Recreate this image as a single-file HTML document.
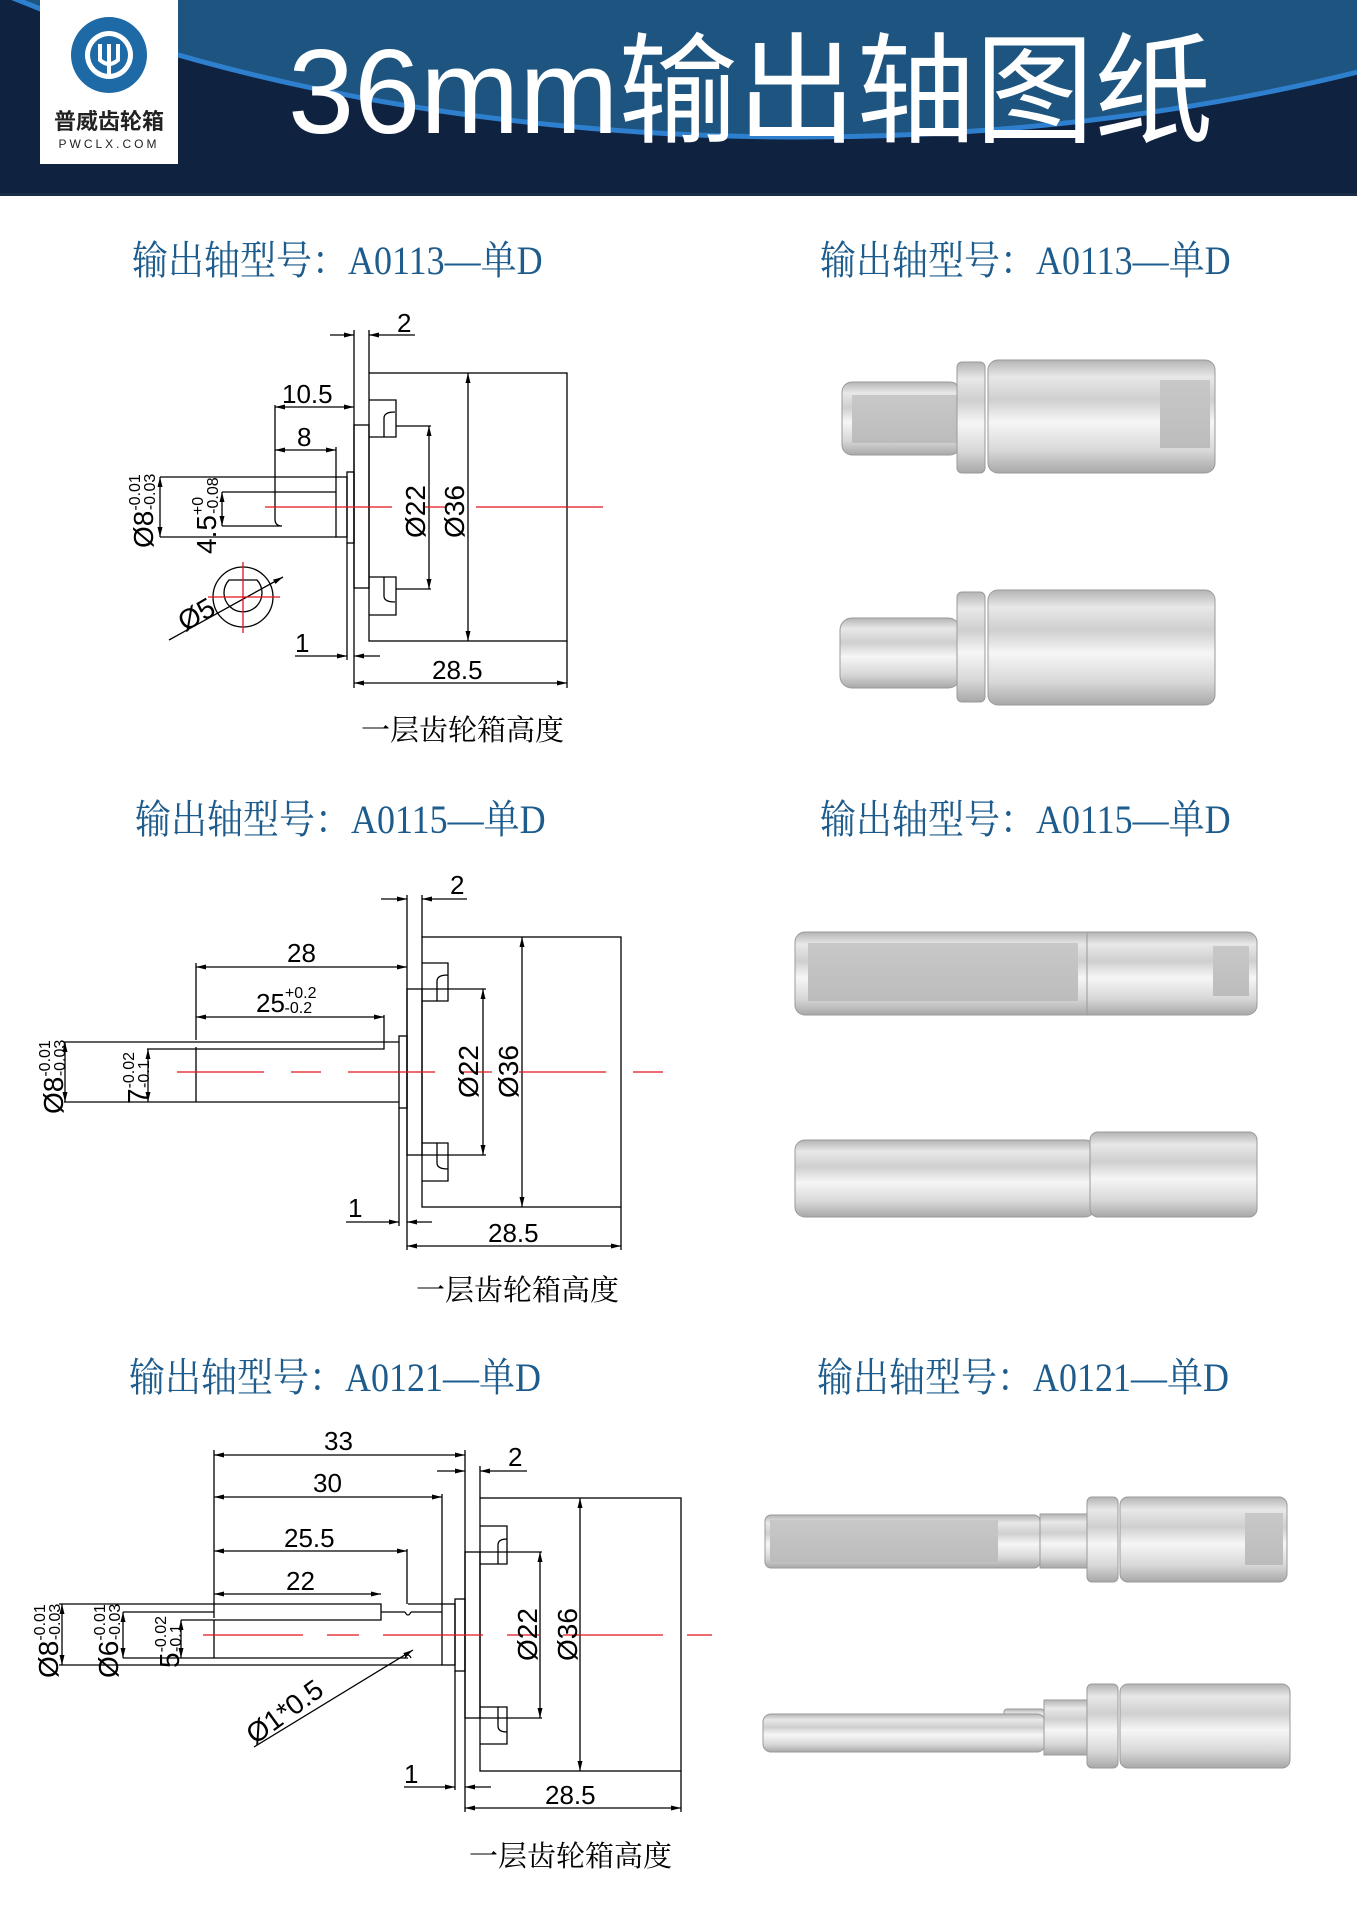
<!DOCTYPE html>
<html><head><meta charset="utf-8"><style>
html,body{margin:0;padding:0;background:#fff}
body{width:1357px;height:1920px;position:relative;overflow:hidden}
.t{position:absolute;font-family:"Liberation Serif","Noto Serif CJK SC",serif;font-size:40px;color:#1d5c8c;white-space:nowrap;line-height:1;transform:scaleX(0.9);transform-origin:left center}
</style></head><body>
<svg width="1357" height="1920" viewBox="0 0 1357 1920" xmlns="http://www.w3.org/2000/svg" style="position:absolute;left:0;top:0">
<defs>
<linearGradient id="m" x1="0" y1="0" x2="0" y2="1">
<stop offset="0" stop-color="#b4b4b4"/><stop offset="0.15" stop-color="#e8e8e8"/><stop offset="0.35" stop-color="#cfcfcf"/><stop offset="0.55" stop-color="#f6f6f6"/><stop offset="0.8" stop-color="#d8d8d8"/><stop offset="1" stop-color="#a8a8a8"/>
</linearGradient>
<linearGradient id="f" x1="0" y1="0" x2="0" y2="1"><stop offset="0" stop-color="#c8c8c8"/><stop offset="1" stop-color="#bcbcbc"/></linearGradient>
<marker id="a" viewBox="0 0 10 6" refX="10" refY="3" markerWidth="10" markerHeight="6" orient="auto-start-reverse" markerUnits="userSpaceOnUse"><path d="M0,0.5 L10,3 L0,5.5 Z" fill="#000"/></marker>
<clipPath id="hc"><rect x="0" y="0" width="1357" height="196"/></clipPath>
</defs>
<!-- header -->
<rect x="0" y="0" width="1357" height="196" fill="#0f2240"/>
<g clip-path="url(#hc)"><ellipse cx="800" cy="-430" rx="1200" ry="567" fill="#1d5580" stroke="#2f7fcf" stroke-width="5"/></g>
<rect x="0" y="193" width="1357" height="3" fill="#1a2b44"/>
<rect x="40" y="0" width="138" height="164" fill="#fff"/>
<circle cx="109" cy="55" r="38" fill="#1e6aa6"/>
<circle cx="109" cy="55" r="24" fill="#fff"/>
<circle cx="109" cy="55" r="19" fill="#1e6aa6"/>
<path d="M100,44 v16 q9,8 18,0 v-16 M109,44 v30" stroke="#fff" stroke-width="4" fill="none"/>
<text x="109" y="129" text-anchor="middle" font-family="Liberation Sans,Noto Sans CJK SC,sans-serif" font-weight="bold" font-size="22" fill="#222">普威齿轮箱</text>
<text x="109" y="148" text-anchor="middle" font-family="Liberation Sans,sans-serif" font-size="12" letter-spacing="3" fill="#222">PWCLX.COM</text>
<text x="288" y="133" font-family="Liberation Sans,Noto Sans CJK SC,sans-serif" font-size="120" fill="#fff" textLength="925" lengthAdjust="spacingAndGlyphs">36mm输出轴图纸</text>

<g fill="none" stroke="#000" stroke-width="1.3">
<!-- ===== Drawing 1 ===== -->
<rect x="369" y="373" width="198" height="268"/>
<rect x="354" y="425" width="15" height="163"/>
<rect x="347" y="472" width="7" height="71"/>
<rect x="336" y="477" width="11" height="60"/>
<path d="M160,477 H336 M160,537 H336 M222,492 H336 M222,526 H282 Q275,526 275,519 V492 M275,405 V492"/>
<path d="M369,400 H396 V437 H369 M384,437 V418 Q384,412 395,412 M369,577 H396 V615 H369 M384,577 V596 Q384,602 395,602"/>
<path d="M396,426 H431 M396,589 H431"/>
<path d="M354,330 V688 M369,330 V373 M336,447 V477 M347,543 V660 M567,641 V688"/>
<path d="M330,335 H354" marker-end="url(#a)"/><path d="M415,335 H369" marker-end="url(#a)"/>
<path d="M275,407 H354" marker-start="url(#a)" marker-end="url(#a)"/>
<path d="M275,450 H336" marker-start="url(#a)" marker-end="url(#a)"/>
<path d="M160,477 V537" marker-start="url(#a)" marker-end="url(#a)"/>
<path d="M222,492 V526" marker-start="url(#a)" marker-end="url(#a)"/>
<path d="M429,426 V589" marker-start="url(#a)" marker-end="url(#a)"/>
<path d="M468,373 V641" marker-start="url(#a)" marker-end="url(#a)"/>
<path d="M295,656 H347" marker-end="url(#a)"/><path d="M380,656 H354" marker-end="url(#a)"/>
<path d="M354,683 H567" marker-start="url(#a)" marker-end="url(#a)"/>
<circle cx="243" cy="597" r="30"/>
<path d="M229,580 A19,19 0 1 0 257,580 Z"/>
<path d="M169,640 L283,577" marker-end="url(#a)"/>

<!-- ===== Drawing 2 ===== -->
<rect x="422" y="937" width="199" height="270"/>
<rect x="407" y="989" width="15" height="166"/>
<rect x="399" y="1036" width="8" height="72"/>
<path d="M64,1042 H399 M147,1049 H384 V1042 M64,1102 H399 M196,1047 V1102 M196,963 V1040 M384,1015 V1042"/>
<path d="M422,963 H448 V1001 H422 M437,1001 V981 Q437,975 448,975 M422,1143 H448 V1181 H422 M437,1143 V1163 Q437,1169 448,1169"/>
<path d="M422,989 H486 M422,1155 H486"/>
<path d="M407,895 V1250 M422,895 V937 M399,1108 V1226 M621,1207 V1250"/>
<path d="M381,899 H407" marker-end="url(#a)"/><path d="M467,899 H422" marker-end="url(#a)"/>
<path d="M196,967 H407" marker-start="url(#a)" marker-end="url(#a)"/>
<path d="M196,1017 H384" marker-start="url(#a)" marker-end="url(#a)"/>
<path d="M65,1042 V1102" marker-start="url(#a)" marker-end="url(#a)"/>
<path d="M148,1049 V1102" marker-start="url(#a)" marker-end="url(#a)"/>
<path d="M483,989 V1155" marker-start="url(#a)" marker-end="url(#a)"/>
<path d="M522,937 V1207" marker-start="url(#a)" marker-end="url(#a)"/>
<path d="M346,1222 H399" marker-end="url(#a)"/><path d="M432,1222 H407" marker-end="url(#a)"/>
<path d="M407,1246 H621" marker-start="url(#a)" marker-end="url(#a)"/>

<!-- ===== Drawing 3 ===== -->
<rect x="480" y="1498" width="201" height="273"/>
<rect x="465" y="1552" width="15" height="166"/>
<rect x="455" y="1599" width="10" height="72"/>
<rect x="442" y="1604" width="13" height="61"/>
<path d="M59,1604 H381 V1620 H181 M408,1604 H442 M123,1612 H214 M123,1658 H408 M59,1665 H442 M214,1620 V1658 M381,1612 H405 M411,1612 H442 M405,1612 Q408,1618 411,1612 M405,1658 Q408,1652 411,1658 M407,1549 V1604"/>
<path d="M214,1450 V1618 M465,1450 V1552 M442,1494 V1604 M480,1466 V1498 M465,1552 V1812 M455,1671 V1790 M681,1771 V1812"/>
<path d="M480,1526 H507 V1564 H480 M498,1564 V1545 Q498,1539 507,1539 M480,1707 H507 V1744 H480 M498,1707 V1726 Q498,1732 507,1732"/>
<path d="M480,1552 H542 M480,1718 H542"/>
<path d="M214,1455 H465" marker-start="url(#a)" marker-end="url(#a)"/>
<path d="M214,1497 H442" marker-start="url(#a)" marker-end="url(#a)"/>
<path d="M214,1551 H407" marker-start="url(#a)" marker-end="url(#a)"/>
<path d="M214,1594 H381" marker-start="url(#a)" marker-end="url(#a)"/>
<path d="M437,1471 H465" marker-end="url(#a)"/><path d="M527,1471 H480" marker-end="url(#a)"/>
<path d="M62,1604 V1665" marker-start="url(#a)" marker-end="url(#a)"/>
<path d="M123,1612 V1658" marker-start="url(#a)" marker-end="url(#a)"/>
<path d="M181,1620 V1658" marker-start="url(#a)" marker-end="url(#a)"/>
<path d="M540,1552 V1718" marker-start="url(#a)" marker-end="url(#a)"/>
<path d="M580,1498 V1771" marker-start="url(#a)" marker-end="url(#a)"/>
<path d="M254,1747 L413,1650" marker-end="url(#a)"/>
<path d="M404,1787 H455" marker-end="url(#a)"/><path d="M491,1787 H465" marker-end="url(#a)"/>
<path d="M465,1808 H681" marker-start="url(#a)" marker-end="url(#a)"/>
</g>
<!-- red lines -->
<g stroke="#e0141e" stroke-width="1.3" fill="none">
<path d="M265,507 H392 M425,507 H445 M476,507 H603"/>
<path d="M208,597 H280 M243,562 V633"/>
<path d="M177,1072 H664" stroke-dasharray="87 27 30 27"/>
<path d="M203,1635 H712" stroke-dasharray="100 24 32 24"/>
</g>

<!-- dimension texts -->
<g font-family="Liberation Sans,sans-serif" font-size="26" fill="#000">
<text x="397" y="332">2</text><text x="282" y="403">10.5</text><text x="297" y="446">8</text>
<text x="295" y="652">1</text><text x="432" y="679">28.5</text>
<text transform="translate(425,538) rotate(-90)" font-size="28">Ø22</text>
<text transform="translate(464,538) rotate(-90)" font-size="28">Ø36</text>
<text transform="translate(153,548) rotate(-90)" font-size="28">Ø8<tspan font-size="16" dy="-13">-0.01</tspan><tspan font-size="16" dx="-36" dy="15">-0.03</tspan></text>
<text transform="translate(216,554) rotate(-90)" font-size="28">4.5<tspan font-size="16" dy="-13">+0</tspan><tspan font-size="16" dx="-17" dy="15">-0.08</tspan></text>
<text transform="translate(185,632) rotate(-30)" font-size="28">Ø5</text>

<text x="450" y="894">2</text><text x="287" y="962">28</text>
<text x="256" y="1012">25<tspan font-size="16" dy="-14">+0.2</tspan><tspan font-size="16" dx="-32" dy="15">-0.2</tspan></text>
<text x="348" y="1217">1</text><text x="488" y="1242">28.5</text>
<text transform="translate(478,1098) rotate(-90)" font-size="28">Ø22</text>
<text transform="translate(518,1098) rotate(-90)" font-size="28">Ø36</text>
<text transform="translate(63,1114) rotate(-90)" font-size="28">Ø8<tspan font-size="16" dy="-13">-0.01</tspan><tspan font-size="16" dx="-36" dy="15">-0.03</tspan></text>
<text transform="translate(147,1104) rotate(-90)" font-size="28">7<tspan font-size="16" dy="-13">-0.02</tspan><tspan font-size="16" dx="-36" dy="15">-0.1</tspan></text>

<text x="324" y="1450">33</text><text x="313" y="1492">30</text><text x="284" y="1547">25.5</text><text x="286" y="1590">22</text>
<text x="508" y="1466">2</text><text x="404" y="1783">1</text><text x="545" y="1804">28.5</text>
<text transform="translate(537,1661) rotate(-90)" font-size="28">Ø22</text>
<text transform="translate(577,1661) rotate(-90)" font-size="28">Ø36</text>
<text transform="translate(58,1678) rotate(-90)" font-size="28">Ø8<tspan font-size="16" dy="-13">-0.01</tspan><tspan font-size="16" dx="-36" dy="15">-0.03</tspan></text>
<text transform="translate(118,1678) rotate(-90)" font-size="28">Ø6<tspan font-size="16" dy="-13">-0.01</tspan><tspan font-size="16" dx="-36" dy="15">-0.03</tspan></text>
<text transform="translate(179,1668) rotate(-90)" font-size="28">5<tspan font-size="16" dy="-13">-0.02</tspan><tspan font-size="16" dx="-36" dy="15">-0.1</tspan></text>
<text transform="translate(255,1745) rotate(-36)" font-size="28">Ø1*0.5</text>
</g>
<g font-family="Liberation Serif,Noto Serif CJK SC,serif" font-size="29" fill="#000">
<text x="361" y="740">一层齿轮箱高度</text>
<text x="416" y="1300">一层齿轮箱高度</text>
<text x="469" y="1866">一层齿轮箱高度</text>
</g>

<!-- photos -->
<g stroke="#9a9a9a" stroke-width="1">
<rect x="842" y="382" width="118" height="73" rx="10" fill="url(#m)"/>
<rect x="852" y="395" width="105" height="48" fill="url(#f)" stroke="none"/>
<rect x="957" y="362" width="28" height="111" rx="5" fill="url(#m)"/>
<rect x="988" y="360" width="227" height="113" rx="10" fill="url(#m)"/>
<rect x="1160" y="380" width="50" height="68" fill="url(#f)" stroke="none"/>
<rect x="840" y="618" width="120" height="70" rx="12" fill="url(#m)"/>
<rect x="957" y="592" width="28" height="110" rx="5" fill="url(#m)"/>
<rect x="988" y="590" width="227" height="115" rx="10" fill="url(#m)"/>
<rect x="795" y="932" width="462" height="83" rx="10" fill="url(#m)"/>
<rect x="808" y="943" width="270" height="58" fill="url(#f)" stroke="none"/>
<rect x="1213" y="946" width="36" height="50" fill="url(#f)" stroke="none"/>
<line x1="1087" y1="932" x2="1087" y2="1015"/>
<rect x="795" y="1140" width="300" height="77" rx="10" fill="url(#m)"/>
<rect x="1090" y="1132" width="167" height="85" rx="8" fill="url(#m)"/>
<rect x="765" y="1515" width="275" height="53" rx="6" fill="url(#m)"/>
<rect x="770" y="1520" width="228" height="42" fill="url(#f)" stroke="none"/>
<rect x="1040" y="1514" width="48" height="54" fill="url(#m)"/>
<rect x="1087" y="1497" width="31" height="85" rx="5" fill="url(#m)"/>
<rect x="1120" y="1497" width="167" height="85" rx="8" fill="url(#m)"/>
<rect x="1245" y="1513" width="38" height="52" fill="url(#f)" stroke="none"/>
<rect x="1004" y="1709" width="40" height="30" rx="3" fill="url(#m)"/>
<rect x="763" y="1714" width="282" height="38" rx="8" fill="url(#m)"/>
<rect x="1044" y="1700" width="44" height="55" fill="url(#m)"/>
<rect x="1087" y="1684" width="31" height="84" rx="5" fill="url(#m)"/>
<rect x="1120" y="1684" width="170" height="84" rx="8" fill="url(#m)"/>
</g>
</svg>
<div class="t" style="left:132px;top:241px">输出轴型号：A0113—单D</div>
<div class="t" style="left:820px;top:241px">输出轴型号：A0113—单D</div>
<div class="t" style="left:135px;top:800px">输出轴型号：A0115—单D</div>
<div class="t" style="left:820px;top:800px">输出轴型号：A0115—单D</div>
<div class="t" style="left:129px;top:1358px">输出轴型号：A0121—单D</div>
<div class="t" style="left:817px;top:1358px">输出轴型号：A0121—单D</div>
</body></html>
